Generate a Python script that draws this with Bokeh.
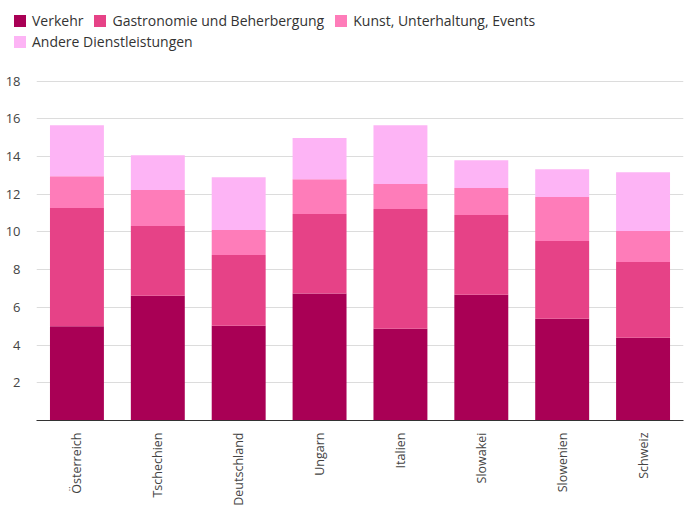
import math
from bokeh.plotting import figure
from bokeh.layouts import column, row
from bokeh.models import Range1d, FactorRange, FixedTicker, Legend, LegendItem
from bokeh.embed import file_html
from bokeh.resources import INLINE

countries = ["Österreich", "Tschechien", "Deutschland", "Ungarn", "Italien",
             "Slowakei", "Slowenien", "Schweiz"]
series = ["Verkehr", "Gastronomie und Beherbergung", "Kunst, Unterhaltung, Events",
          "Andere Dienstleistungen"]
verkehr = [5.0, 6.62, 5.03, 6.74, 4.87, 6.67, 5.40, 4.39]
gastro = [6.27, 3.70, 3.75, 4.21, 6.35, 4.23, 4.12, 4.02]
kunst = [1.69, 1.90, 1.32, 1.85, 1.32, 1.43, 2.33, 1.64]
andere = [2.70, 1.85, 2.80, 2.18, 3.12, 1.48, 1.48, 3.12]
y_ticks = [2, 4, 6, 8, 10, 12, 14, 16, 18]

colors = ["#A90055", "#E64287", "#FE7CB9", "#FDB4F5"]
FONT = "Open Sans"
LEG_H = 60

data = {"country": countries, "v": verkehr, "g": gastro, "k": kunst, "a": andere}

# ---- legend strip (its own small figure; swatch renderers lie outside its view) ----
lp = figure(width=689, height=LEG_H, x_range=(0, 1), y_range=(0, 1),
            x_axis_type=None, y_axis_type=None, output_backend="svg",
            toolbar_location=None, min_border=0)
lp.outline_line_color = None
lp.grid.grid_line_color = None
dummies = [lp.quad(left=[2], right=[3], bottom=[2], top=[3], color=c, line_color=None)
           for c in colors]


def make_legend(items, loc):
    lg = Legend(items=items, location=loc, orientation="horizontal",
                margin=0, padding=0, spacing=9, label_standoff=5,
                glyph_width=15, glyph_height=15, label_height=15,
                label_text_font=FONT, label_text_font_size="14px",
                label_text_color="#333333", border_line_color=None,
                background_fill_alpha=0)
    lp.add_layout(lg, "center")


make_legend([LegendItem(label=series[i], renderers=[dummies[i]]) for i in range(3)], (12, 30))
make_legend([LegendItem(label=series[3], renderers=[dummies[3]])], (12, 9))

# ---- main chart ----
p = figure(width=689, height=508 - LEG_H, x_range=FactorRange(*countries, range_padding=0),
           y_range=Range1d(0, 18.3), output_backend="svg", toolbar_location=None,
           min_border_left=36, min_border_right=6, min_border_top=75 - LEG_H,
           min_border_bottom=87)
p.outline_line_color = None

rs = p.vbar_stack(["v", "g", "k", "a"], x="country", width=0.667, color=colors,
                  line_color=None, source=data)

p.xgrid.grid_line_color = None
p.ygrid.grid_line_color = "#dcdcdc"
p.ygrid.grid_line_width = 1
p.yaxis.ticker = FixedTicker(ticks=y_ticks)
p.yaxis.axis_line_color = None
p.yaxis.major_tick_line_color = None
p.yaxis.minor_tick_line_color = None
p.yaxis.major_label_text_font = FONT
p.yaxis.major_label_text_font_size = "13px"
p.yaxis.major_label_text_color = "#444444"
p.yaxis.major_label_standoff = 10

p.xaxis.axis_line_color = "#333333"
p.xaxis.major_tick_line_color = None
p.xaxis.minor_tick_line_color = None
p.xaxis.major_label_orientation = math.pi / 2
p.xaxis.major_label_text_font = FONT
p.xaxis.major_label_text_font_size = "12.5px"
p.xaxis.major_label_text_color = "#444444"
p.xaxis.major_label_standoff = 6

layout = column(row(lp), p, spacing=0)
open("out.html", "w").write(file_html(layout, INLINE))
